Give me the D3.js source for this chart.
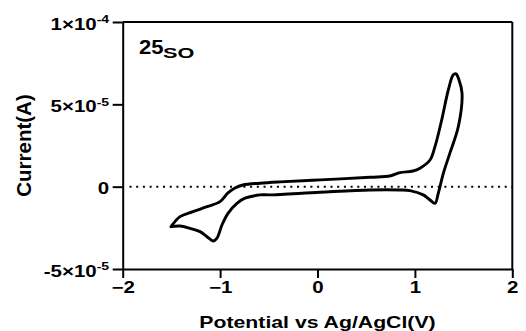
<!DOCTYPE html>
<html>
<head>
<meta charset="utf-8">
<script src="https://cdn.jsdelivr.net/npm/d3@7"></script>
<style>
  html, body { margin: 0; padding: 0; background: #fff; }
  svg { display: block; font-family: "Liberation Sans", Arial, sans-serif; font-weight: bold; }
</style>
</head>
<body>
<svg id="chart" width="526" height="331"></svg>
<script>
// Cyclic voltammogram: potential (V) and current (A), in recorded order
const potential = [-1.504, -1.412, -1.278, -1.134, -1.001, -0.919, -0.847, -0.765, -0.591, -0.385,
  0.026, 0.539, 0.744, 0.847, 0.980, 1.052, 1.155, 1.206, 1.275, 1.343, 1.394, 1.422, 1.453, 1.484,
  1.446, 1.360, 1.292, 1.240, 1.206, 1.155, 1.086, 0.950, 0.847, 0.539, 0.026, -0.488, -0.591,
  -0.744, -0.827, -0.919, -0.981, -1.032, -1.070, -1.134, -1.206, -1.309, -1.412, -1.504];
const current = [-2.43e-5, -1.82e-5, -1.52e-5, -1.215e-5, -0.91e-5, -0.38e-5, -0.08e-5, 0.10e-5, 0.21e-5, 0.29e-5,
  0.41e-5, 0.57e-5, 0.65e-5, 0.85e-5, 0.95e-5, 1.12e-5, 1.62e-5, 2.43e-5, 4.05e-5, 5.87e-5, 6.79e-5, 6.85e-5, 6.48e-5, 5.67e-5,
  3.65e-5, 2.05e-5, 0.81e-5, -0.40e-5, -1.01e-5, -0.81e-5, -0.50e-5, -0.24e-5, -0.20e-5, -0.20e-5, -0.34e-5, -0.50e-5, -0.50e-5,
  -0.70e-5, -1.01e-5, -1.62e-5, -2.33e-5, -3.13e-5, -3.30e-5, -3.04e-5, -2.73e-5, -2.53e-5, -2.39e-5, -2.43e-5];

const xTicks = [-2, -1, 0, 1, 2];
const yTicks = [-5e-5, 0, 5e-5, 1e-4];
const yTickMant = ["-5", "0", "5", "1"];
const yTickExp = ["-5", "", "-5", "-4"];
const xDomain = [-2, 2];
const yDomain = [-5e-5, 1e-4];
const xLabel = "Potential vs Ag/AgCl(V)";
const yLabel = "Current(A)";
const sampleMain = "25";
const sampleSub = "SO";

const svg = d3.select("#chart");
const L = 122.7, R = 512.3, T = 22, B = 269;
const SX = 1.28; // horizontal text stretch seen in the reference
const x = d3.scaleLinear().domain(xDomain).range([L, R]);
const y = d3.scaleLinear().domain(yDomain).range([B, T]);

// zero dotted line
svg.append("line")
  .attr("x1", x(-1.93)).attr("x2", x(2)).attr("y1", y(0)).attr("y2", y(0))
  .attr("stroke", "#000").attr("stroke-width", 2)
  .attr("stroke-dasharray", "2,4.7");

// curve
const pts = potential.map((v, i) => [v, current[i]]);
svg.append("path")
  .datum(pts)
  .attr("fill", "none").attr("stroke", "#000").attr("stroke-width", 2.9)
  .attr("stroke-linejoin", "round")
  .attr("d", d3.line().x(d => x(d[0])).y(d => y(d[1])).curve(d3.curveCatmullRomClosed.alpha(0.5)));

// frame top/right
svg.append("line").attr("x1", L).attr("x2", R).attr("y1", T).attr("y2", T).attr("stroke", "#000").attr("stroke-width", 2);
svg.append("line").attr("x1", R).attr("x2", R).attr("y1", T).attr("y2", B).attr("stroke", "#000").attr("stroke-width", 2);

// x axis
const xAxis = svg.append("g").attr("transform", `translate(0,${B})`)
  .call(d3.axisBottom(x).tickValues(xTicks).tickSize(9).tickSizeOuter(0).tickPadding(4).tickFormat(d3.format("d")));
xAxis.selectAll("path,line").attr("stroke", "#000").attr("stroke-width", 2);
xAxis.selectAll("text").attr("font-size", 16).attr("font-family", null).attr("fill", "#000")
  .attr("transform", `scale(${SX},1)`);

// y axis
const yAxis = svg.append("g").attr("transform", `translate(${L},0)`)
  .call(d3.axisLeft(y).tickValues(yTicks).tickSize(10).tickSizeOuter(0).tickPadding(3).tickFormat(""));
yAxis.selectAll("path,line").attr("stroke", "#000").attr("stroke-width", 2);
yAxis.selectAll(".tick").each(function(d, i) {
  const t = d3.select(this).select("text")
    .attr("font-size", 16).attr("font-family", null).attr("fill", "#000")
    .attr("x", 0).attr("dy", "0.44em")
    .attr("transform", `translate(-13.5,0) scale(${SX},1)`).text(null);
  if (yTickExp[i]) {
    t.append("tspan").text(yTickMant[i] + "×10");
    t.append("tspan").attr("font-size", 11).attr("dy", "-0.55em").text(yTickExp[i]);
  } else {
    t.append("tspan").text(yTickMant[i]);
  }
});

// axis titles
svg.append("text").attr("transform", `translate(${(L + R) / 2},327.5) scale(${SX},1)`).attr("text-anchor", "middle")
  .attr("font-size", 16.6).text(xLabel);
svg.append("text").attr("transform", `translate(31,${(T + B) / 2}) rotate(-90)`).attr("text-anchor", "middle")
  .attr("font-size", 20.5).text(yLabel);

// sample label
svg.append("text").attr("transform", "translate(139,54) scale(1.05,1)").attr("font-size", 21).text(sampleMain);
svg.append("text").attr("transform", "translate(163,58) scale(1.4,1)").attr("font-size", 15.5).text(sampleSub);
</script>
</body>
</html>
